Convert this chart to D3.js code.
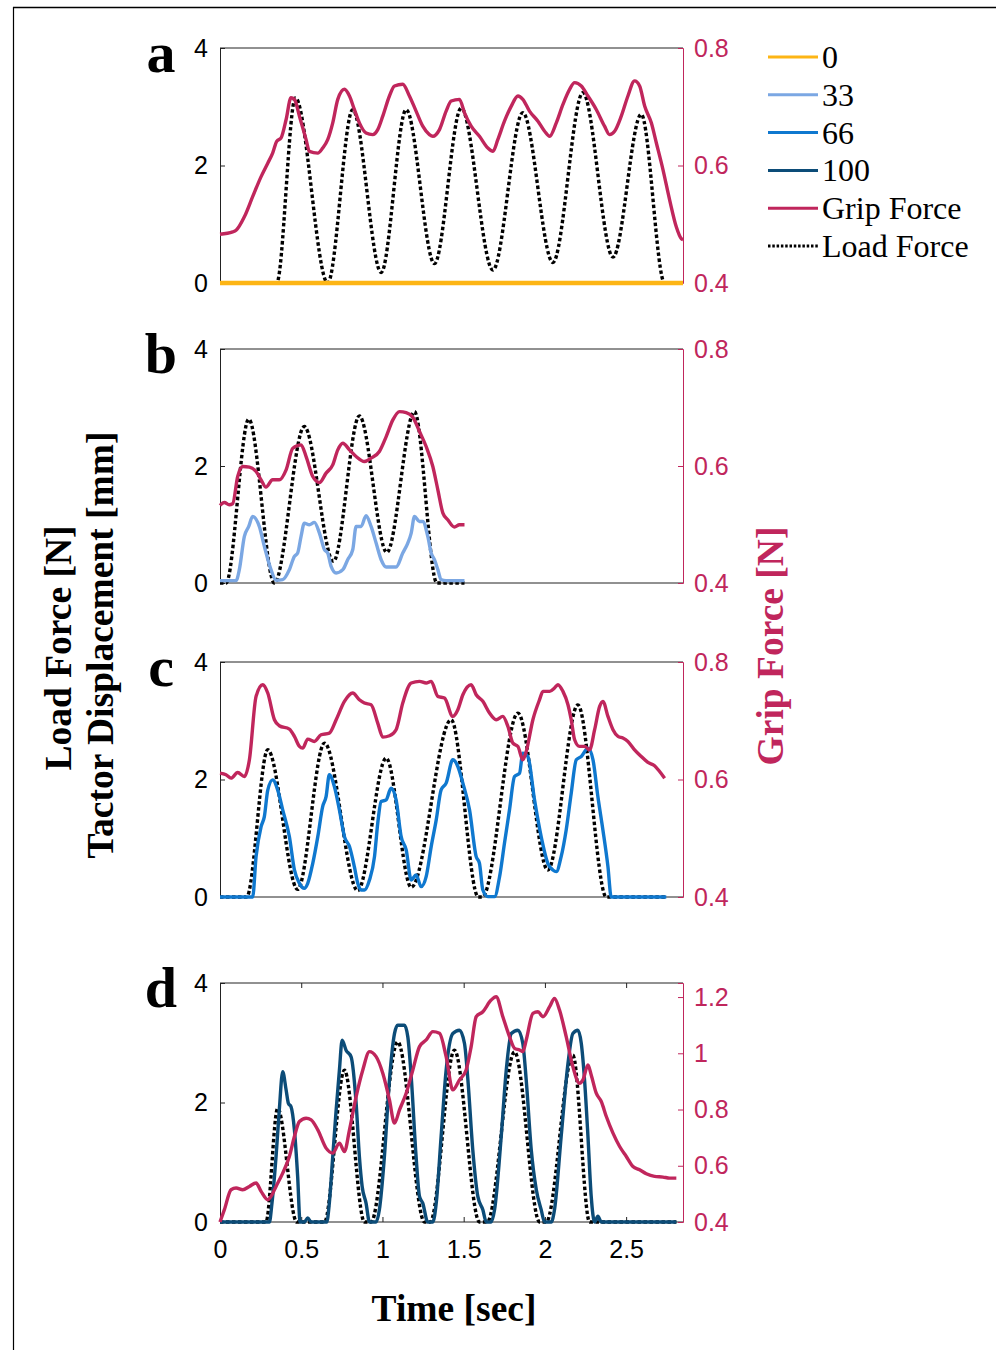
<!DOCTYPE html>
<html><head><meta charset="utf-8">
<script src="https://cdn.jsdelivr.net/npm/d3@7"></script>
<style>body{margin:0;background:#fff}svg{display:block}</style>
</head><body><svg id="chart" width="996" height="1350"></svg>
<script>
// ---------- DATA (time in sec, value) ----------
const legendLabels = ["0", "33", "66", "100", "Grip Force", "Load Force"];
const panelLetters = ["a", "b", "c", "d"];
const xTicks = [0, 0.5, 1, 1.5, 2, 2.5];
const leftTicks = [0, 2, 4];
const rightTicksABC = [0.4, 0.6, 0.8];
const rightTicksD = [0.4, 0.6, 0.8, 1, 1.2];

// Panel a
const dispA = [[0,0],[2.85,0]];
const loadA = [[0,0],[0.349,0],[0.464,3.15],[0.663,0],[0.817,2.95],[0.992,0.18],[1.146,2.95],[1.320,0.33],[1.485,2.98],[1.680,0.22],[1.864,2.9],[2.049,0.35],[2.234,3.24],[2.419,0.44],[2.593,2.87],[2.737,0],[2.85,0]];
const gripA = [[0,0.4829],[0.078,0.4869],[0.099,0.4897],[0.150,0.5126],[0.201,0.5469],[0.253,0.5811],[0.294,0.604],[0.324,0.6211],[0.349,0.6411],[0.376,0.6469],[0.407,0.6783],[0.437,0.7154],[0.458,0.7126],[0.489,0.684],[0.530,0.644],[0.550,0.624],[0.602,0.6211],[0.632,0.6297],[0.663,0.644],[0.694,0.6726],[0.725,0.7126],[0.766,0.7297],[0.797,0.7183],[0.827,0.6954],[0.858,0.6726],[0.899,0.6554],[0.940,0.6526],[0.971,0.6611],[1.002,0.684],[1.043,0.7183],[1.074,0.7354],[1.125,0.7383],[1.166,0.7183],[1.207,0.6926],[1.248,0.6669],[1.289,0.6526],[1.310,0.6497],[1.351,0.6611],[1.392,0.6926],[1.423,0.7097],[1.474,0.7126],[1.505,0.6897],[1.546,0.6669],[1.597,0.6497],[1.649,0.6297],[1.680,0.624],[1.710,0.644],[1.751,0.6754],[1.793,0.7011],[1.834,0.7183],[1.864,0.7126],[1.905,0.6926],[1.957,0.6754],[1.998,0.6583],[2.029,0.6497],[2.070,0.6726],[2.111,0.704],[2.152,0.7297],[2.183,0.7411],[2.224,0.7354],[2.265,0.7183],[2.316,0.6954],[2.367,0.6669],[2.398,0.6526],[2.429,0.6583],[2.470,0.684],[2.511,0.7183],[2.552,0.744],[2.583,0.7354],[2.614,0.7011],[2.655,0.6726],[2.686,0.6383],[2.727,0.5926],[2.768,0.5411],[2.809,0.4954],[2.840,0.4754],[2.85,0.4740]];

// Panel b
const dispB = [[0,0.04],[0.099,0.04],[0.119,0.228],[0.150,0.797],[0.177,0.967],[0.201,1.138],[0.242,0.967],[0.273,0.626],[0.314,0.228],[0.345,0.046],[0.386,0.057],[0.427,0.228],[0.458,0.455],[0.478,0.512],[0.499,0.797],[0.519,1.024],[0.550,0.996],[0.581,1.036],[0.612,0.853],[0.643,0.569],[0.663,0.512],[0.684,0.284],[0.715,0.171],[0.756,0.228],[0.786,0.398],[0.817,0.569],[0.838,0.967],[0.869,0.967],[0.899,1.149],[0.930,0.967],[0.961,0.683],[0.992,0.398],[1.023,0.273],[1.084,0.273],[1.125,0.512],[1.156,0.683],[1.177,0.853],[1.197,1.138],[1.228,1.052],[1.248,1.052],[1.279,0.797],[1.300,0.512],[1.320,0.398],[1.341,0.228],[1.361,0.057],[1.392,0.04],[1.505,0.04]];
const loadB = [[0,0],[0.037,0],[0.177,2.80],[0.335,0],[0.519,2.674],[0.698,0.37],[0.858,2.856],[1.027,0.523],[1.197,2.93],[1.335,0],[1.505,0]];
const gripB = [[0,0.5326],[0.027,0.5377],[0.057,0.5337],[0.078,0.5354],[0.109,0.5821],[0.140,0.5991],[0.181,0.598],[0.222,0.5906],[0.253,0.5764],[0.283,0.5639],[0.324,0.5764],[0.365,0.5764],[0.407,0.5935],[0.448,0.6304],[0.499,0.6361],[0.530,0.6162],[0.571,0.5821],[0.612,0.5718],[0.653,0.5878],[0.694,0.602],[0.725,0.6276],[0.756,0.639],[0.797,0.6276],[0.838,0.6162],[0.889,0.6077],[0.930,0.6134],[0.981,0.6248],[1.023,0.6503],[1.064,0.6788],[1.105,0.693],[1.146,0.6913],[1.187,0.6834],[1.228,0.6589],[1.269,0.6333],[1.310,0.5991],[1.341,0.5593],[1.372,0.5195],[1.402,0.5081],[1.443,0.4956],[1.474,0.4996],[1.505,0.4996]];

// Panel c
const dispC = [[0,0],[0.201,0],[0.222,0.687],[0.253,1.199],[0.273,1.369],[0.294,1.818],[0.324,1.994],[0.355,1.824],[0.386,1.483],[0.427,1.028],[0.458,0.460],[0.489,0.233],[0.519,0.148],[0.540,0.233],[0.571,0.574],[0.602,1.028],[0.632,1.540],[0.653,1.710],[0.673,2.080],[0.704,1.881],[0.735,1.483],[0.766,1.028],[0.797,0.858],[0.827,0.517],[0.848,0.233],[0.869,0.119],[0.889,0.119],[0.920,0.290],[0.951,0.687],[0.971,1.256],[0.992,1.625],[1.023,1.653],[1.053,1.852],[1.084,1.653],[1.115,1.028],[1.146,0.801],[1.177,0.290],[1.207,0.375],[1.238,0.176],[1.269,0.347],[1.300,0.858],[1.331,1.313],[1.361,1.824],[1.392,1.938],[1.433,2.335],[1.464,2.222],[1.495,1.938],[1.536,1.483],[1.577,0.687],[1.597,0.574],[1.618,0.119],[1.649,0.006],[1.690,0.006],[1.721,0.347],[1.751,0.915],[1.782,1.483],[1.813,2.051],[1.844,2.108],[1.864,2.449],[1.895,2.392],[1.936,1.653],[1.977,1.028],[2.018,0.574],[2.049,0.460],[2.070,0.432],[2.100,0.687],[2.131,1.142],[2.162,1.767],[2.193,2.335],[2.224,2.392],[2.265,2.534],[2.296,2.335],[2.326,1.710],[2.357,1.142],[2.388,0.517],[2.408,0],[2.747,0]];
const loadC = [[0,0],[0.164,0],[0.294,2.506],[0.478,0.13],[0.643,2.62],[0.848,0.108],[1.023,2.364],[1.177,0.165],[1.423,3.017],[1.590,0],[1.615,0],[1.834,3.13],[2.018,0.46],[2.203,3.27],[2.378,0],[2.747,0]];
const gripC = [[0,0.6108],[0.037,0.608],[0.068,0.6023],[0.109,0.6119],[0.150,0.6051],[0.181,0.6335],[0.222,0.7415],[0.263,0.7614],[0.294,0.7472],[0.335,0.7017],[0.365,0.6915],[0.427,0.6858],[0.458,0.6733],[0.489,0.6563],[0.509,0.6534],[0.540,0.6688],[0.581,0.6648],[0.622,0.6761],[0.673,0.679],[0.715,0.7017],[0.766,0.733],[0.817,0.7472],[0.858,0.7358],[0.889,0.7301],[0.930,0.7273],[0.971,0.696],[1.002,0.6722],[1.043,0.6744],[1.084,0.6847],[1.125,0.7301],[1.177,0.7642],[1.228,0.767],[1.269,0.7642],[1.300,0.767],[1.341,0.7415],[1.382,0.7386],[1.433,0.7074],[1.464,0.7188],[1.495,0.7443],[1.546,0.7614],[1.577,0.7443],[1.618,0.733],[1.659,0.7131],[1.700,0.7017],[1.741,0.7074],[1.772,0.6903],[1.803,0.6619],[1.834,0.6563],[1.864,0.6335],[1.885,0.6477],[1.926,0.7017],[1.967,0.7358],[1.988,0.75],[2.029,0.75],[2.059,0.7557],[2.080,0.7614],[2.111,0.75],[2.142,0.7273],[2.162,0.7017],[2.183,0.6676],[2.213,0.6563],[2.244,0.6563],[2.275,0.6506],[2.306,0.6847],[2.337,0.7244],[2.357,0.733],[2.388,0.7074],[2.419,0.6847],[2.450,0.6733],[2.480,0.6705],[2.511,0.6648],[2.552,0.6506],[2.593,0.6392],[2.634,0.629],[2.675,0.6233],[2.706,0.6136],[2.737,0.6023]];

// Panel d
const dispD = [[0,0],[0.304,0],[0.320,0.317],[0.345,1.096],[0.365,1.875],[0.386,2.515],[0.407,2.209],[0.421,1.986],[0.437,1.930],[0.458,1.541],[0.478,0.762],[0.493,0],[0.519,0],[0.540,0.067],[0.561,0],[0.657,0],[0.673,0.317],[0.694,1.096],[0.715,1.875],[0.735,2.542],[0.752,3.043],[0.776,2.876],[0.807,2.765],[0.838,1.986],[0.858,1.096],[0.875,0.595],[0.899,0.317],[0.920,0],[0.961,0],[0.981,0.206],[1.012,1.096],[1.043,2.375],[1.074,3.154],[1.094,3.293],[1.135,3.293],[1.156,3.099],[1.177,2.431],[1.207,1.096],[1.228,0.428],[1.248,0.317],[1.279,0],[1.310,0],[1.331,0.317],[1.361,1.430],[1.392,2.542],[1.433,3.154],[1.474,3.210],[1.505,2.987],[1.526,2.375],[1.556,1.207],[1.587,0.428],[1.618,0.206],[1.639,0],[1.669,0],[1.690,0.206],[1.731,1.430],[1.762,2.542],[1.793,3.154],[1.834,3.210],[1.864,2.987],[1.885,2.375],[1.916,1.207],[1.947,0.540],[1.977,0.206],[1.998,0],[2.039,0],[2.059,0.206],[2.100,1.430],[2.142,2.654],[2.172,3.154],[2.203,3.210],[2.224,2.987],[2.244,2.375],[2.265,1.430],[2.285,0.428],[2.306,0],[2.326,0.095],[2.347,0],[2.809,0]];
const loadD = [[0,0],[0.283,0],[0.355,1.903],[0.472,0],[0.643,0],[0.766,2.542],[0.889,0],[0.930,0],[1.094,3.015],[1.259,0],[1.294,0],[1.443,2.876],[1.597,0],[1.645,0],[1.813,2.848],[1.967,0],[2.008,0],[2.172,2.793],[2.275,0],[2.809,0]];
const gripD = [[0,0.4],[0.027,0.4438],[0.068,0.5148],[0.099,0.5207],[0.140,0.5148],[0.181,0.5266],[0.222,0.5385],[0.253,0.5089],[0.294,0.4793],[0.314,0.4911],[0.345,0.5266],[0.386,0.574],[0.427,0.6331],[0.458,0.7041],[0.489,0.7574],[0.530,0.7692],[0.561,0.7633],[0.602,0.7278],[0.653,0.6627],[0.694,0.645],[0.735,0.6805],[0.766,0.6509],[0.797,0.7278],[0.838,0.8462],[0.879,0.9408],[0.920,1.0059],[0.961,0.9882],[1.002,0.929],[1.043,0.8343],[1.074,0.7515],[1.105,0.7988],[1.146,0.858],[1.187,0.9408],[1.228,1.0237],[1.269,1.0473],[1.310,1.0769],[1.351,1.071],[1.392,0.9882],[1.433,0.8698],[1.474,0.9053],[1.515,0.9408],[1.546,1.0237],[1.577,1.1302],[1.618,1.1479],[1.669,1.1893],[1.700,1.2012],[1.741,1.1302],[1.782,1.0592],[1.813,1.0178],[1.844,1.0118],[1.864,1.0059],[1.885,1.0473],[1.926,1.142],[1.957,1.1479],[1.988,1.1302],[2.029,1.1657],[2.059,1.1953],[2.090,1.1538],[2.131,1.0592],[2.172,0.9527],[2.213,0.8935],[2.234,0.9053],[2.265,0.9586],[2.285,0.9231],[2.316,0.858],[2.347,0.8284],[2.378,0.7751],[2.419,0.716],[2.460,0.6686],[2.501,0.6331],[2.542,0.5976],[2.583,0.5858],[2.624,0.5716],[2.675,0.5621],[2.727,0.5598],[2.768,0.5562],[2.809,0.5562]];

// ---------- STYLE ----------
const COL = {c0:"#FDB515", c33:"#7BA7E3", c66:"#0F78CF", c100:"#0C4C78", grip:"#C0265C", load:"#000"};
const svg = d3.select("#chart");
const serif = "'Liberation Serif','Times New Roman',serif";
const sans = "'Liberation Sans',Arial,sans-serif";
const TICK_FS = 25;

// frame lines
svg.append("line").attr("x1",13).attr("x2",996).attr("y1",7.5).attr("y2",7.5).attr("stroke","#000").attr("stroke-width",1.5);
svg.append("line").attr("x1",13.5).attr("x2",13.5).attr("y1",7).attr("y2",1350).attr("stroke","#000").attr("stroke-width",1.2);

const x = d3.scaleLinear().domain([0, 2.85]).range([220, 683]);

const panels = [
  {letter:"a", top:48, bottom:283, rDom:[0.4,0.8], rTicks:rightTicksABC, disp:dispA, dcol:COL.c0, load:loadA, grip:gripA, xt:false},
  {letter:"b", top:349, bottom:583, rDom:[0.4,0.8], rTicks:rightTicksABC, disp:dispB, dcol:COL.c33, load:loadB, grip:gripB, xt:false},
  {letter:"c", top:662, bottom:897, rDom:[0.4,0.8], rTicks:rightTicksABC, disp:dispC, dcol:COL.c66, load:loadC, grip:gripC, xt:false},
  {letter:"d", top:983, bottom:1222, rDom:[0.4,1.25], rTicks:rightTicksD, disp:dispD, dcol:COL.c100, load:loadD, grip:gripD, xt:true}
];

panels.forEach((p,i) => {
  const yL = d3.scaleLinear().domain([0,4]).range([p.bottom,p.top]);
  const yR = d3.scaleLinear().domain(p.rDom).range([p.bottom,p.top]);
  const g = svg.append("g");
  const clipId = "clip"+i;
  svg.append("clipPath").attr("id",clipId).append("rect")
    .attr("x",218).attr("y",p.top-2).attr("width",468).attr("height",p.bottom-p.top+6);

  // frame: top & bottom black
  g.append("line").attr("x1",220).attr("x2",683).attr("y1",p.top).attr("y2",p.top).attr("stroke","#222").attr("stroke-width",1);
  g.append("line").attr("x1",220).attr("x2",683).attr("y1",p.bottom).attr("y2",p.bottom).attr("stroke","#222").attr("stroke-width",1);

  // left axis
  const la = g.append("g").attr("transform","translate(220,0)")
    .call(d3.axisLeft(yL).tickValues(leftTicks).tickSize(-5).tickPadding(12).tickFormat(d3.format("d")));
  la.select(".domain").attr("stroke","#222");
  la.selectAll(".tick line").attr("stroke","#222");
  la.selectAll("text").attr("font-family",sans).attr("font-size",TICK_FS).attr("fill","#000");

  // right axis
  const ra = g.append("g").attr("transform","translate(683,0)")
    .call(d3.axisRight(yR).tickValues(p.rTicks).tickSize(-5).tickPadding(11).tickFormat(d => d===1 ? "1" : d3.format(".1f")(d)));
  ra.select(".domain").attr("stroke",COL.grip).attr("stroke-width",1);
  ra.selectAll(".tick line").attr("stroke",COL.grip);
  ra.selectAll("text").attr("font-family",sans).attr("font-size",TICK_FS).attr("fill",COL.grip);

  if (p.xt) {
    const xb = g.append("g").attr("transform",`translate(0,${p.bottom})`)
      .call(d3.axisBottom(x).tickValues(xTicks).tickSize(-5).tickPadding(18).tickFormat(d => d===0?"0":String(d)));
    xb.select(".domain").remove();
    xb.selectAll(".tick line").attr("stroke","#222");
    xb.selectAll("text").attr("font-family",sans).attr("font-size",TICK_FS).attr("fill","#000");
    const xtp = g.append("g").attr("transform",`translate(0,${p.top})`)
      .call(d3.axisTop(x).tickValues(xTicks).tickSize(-5).tickFormat(""));
    xtp.select(".domain").remove();
    xtp.selectAll(".tick line").attr("stroke","#222");
  }

  const lineL = d3.line().x(d=>x(d[0])).y(d=>yL(d[1])).curve(d3.curveMonotoneX);
  const lineR = d3.line().x(d=>x(d[0])).y(d=>yR(d[1])).curve(d3.curveMonotoneX);
  const plot = g.append("g").attr("clip-path",`url(#${clipId})`);

  plot.append("path").datum(p.load).attr("d",lineL).attr("fill","none")
    .attr("stroke",COL.load).attr("stroke-width",3.4).attr("stroke-dasharray","3.5,2.5");
  plot.append("path").datum(p.disp).attr("d",lineL).attr("fill","none")
    .attr("stroke",p.dcol).attr("stroke-width", i===0 ? 4.5 : 3.4).attr("stroke-linejoin","round");
  plot.append("path").datum(p.grip).attr("d",lineR).attr("fill","none")
    .attr("stroke",COL.grip).attr("stroke-width",3.4).attr("stroke-linejoin","round");

  svg.append("text").attr("x",161).attr("y",p.top+24).attr("text-anchor","middle")
    .attr("font-family",serif).attr("font-weight","bold").attr("font-size",58).attr("fill","#000").text(p.letter);
});

// axis titles
const TFS = 37.5;
svg.append("text").attr("transform","translate(71,648) rotate(-90)").attr("text-anchor","middle")
  .attr("font-family",serif).attr("font-weight","bold").attr("font-size",TFS).text("Load Force [N]");
svg.append("text").attr("transform","translate(113,645) rotate(-90)").attr("text-anchor","middle")
  .attr("font-family",serif).attr("font-weight","bold").attr("font-size",TFS).text("Tactor Displacement [mm]");
svg.append("text").attr("transform","translate(783,646) rotate(-90)").attr("text-anchor","middle")
  .attr("font-family",serif).attr("font-weight","bold").attr("font-size",TFS).attr("fill",COL.grip).text("Grip Force [N]");
svg.append("text").attr("x",454).attr("y",1321).attr("text-anchor","middle")
  .attr("font-family",serif).attr("font-weight","bold").attr("font-size",TFS).text("Time [sec]");

// legend
const legCols = [COL.c0, COL.c33, COL.c66, COL.c100, COL.grip, COL.load];
const lg = svg.append("g");
legendLabels.forEach((lab,k) => {
  const yy = 57 + k*37.8;
  const ln = lg.append("line").attr("x1",768).attr("x2",818).attr("y1",yy).attr("y2",yy)
    .attr("stroke",legCols[k]).attr("stroke-width",3);
  if (k===5) ln.attr("stroke-dasharray","2.5,1.8");
  lg.append("text").attr("x",822).attr("y",yy+11).attr("font-family",serif).attr("font-size",32)
    .attr("fill","#000").text(lab);
});
</script></body></html>
